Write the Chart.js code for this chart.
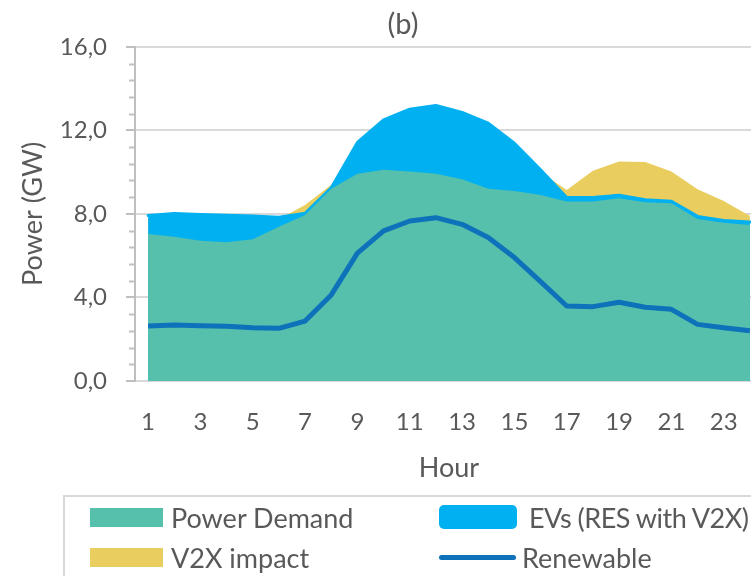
<!DOCTYPE html>
<html>
<head>
<meta charset="utf-8">
<script src="https://cdn.jsdelivr.net/npm/chart.js@4/dist/chart.umd.min.js"></script>
<style>
    html, body { margin: 0; padding: 0; background: #fff; overflow: hidden; }
    #wrap { position: relative; width: 751px; height: 576px; overflow: hidden; }
    #chart { position: absolute; left: 0; top: 0; }
    #legend {
        position: absolute; left: 63px; top: 495px; width: 700px; height: 120px;
        border: 2px solid #D9D9D9; box-sizing: border-box;
        display: grid; grid-template-columns: 349px auto; grid-auto-rows: 40px;
        padding-left: 25px; padding-top: 0;
        font-family: Lato, sans-serif; font-size: 27px; color: #595959;
    }
    .item { display: flex; align-items: center; white-space: nowrap; }
    .swatch { flex: none; }
</style>
</head>
<body>
<div id="wrap">
    <canvas id="chart" width="806" height="576"></canvas>
    <div id="legend"></div>
</div>
<script>
// --- Données ---
const hours = ['1', '2', '3', '4', '5', '6', '7', '8', '9', '10', '11', '12',
               '13', '14', '15', '16', '17', '18', '19', '20', '21', '22', '23', '24'];

const powerDemand = [7.04, 6.91, 6.71, 6.64, 6.79, 7.39, 7.95, 9.20, 9.92, 10.11, 10.03, 9.92,
                     9.66, 9.21, 9.10, 8.91, 8.59, 8.59, 8.75, 8.56, 8.51, 7.76, 7.58, 7.47];

const evsWithV2X  = [7.92, 8.02, 7.97, 7.94, 7.90, 7.84, 8.03, 9.25, 11.42, 12.50, 13.01, 13.19,
                     12.86, 12.34, 11.38, 10.11, 8.78, 8.78, 8.89, 8.68, 8.60, 7.88, 7.69, 7.61];

const v2xImpact   = [7.80, 7.90, 7.85, 7.80, 7.75, 7.75, 8.43, 9.39, 11.15, 12.20, 12.70, 12.90,
                     12.60, 12.00, 11.00, 10.00, 9.15, 10.06, 10.51, 10.48, 10.03, 9.18, 8.62, 7.90];

const renewable   = [2.63, 2.68, 2.65, 2.62, 2.55, 2.52, 2.87, 4.12, 6.12, 7.19, 7.66, 7.82,
                     7.50, 6.87, 5.91, 4.76, 3.59, 3.56, 3.77, 3.53, 3.43, 2.71, 2.55, 2.41];

const yMax = 16;
const yMajorStep = 4;
const yMinorStep = 0.8;

// --- Couleurs ---
const TEAL   = '#57C0AC';
const BLUE   = '#00B0F0';
const YELLOW = '#E9CD5E';
const LINE   = '#0E72BA';
const TEXT   = '#595959';
const FONT   = 'Lato, sans-serif';

// petits traits secondaires sur l'axe Y
const minorTicks = {
    id: 'minorTicks',
    afterDraw(chart) {
        const y = chart.scales.y;
        const ctx = chart.ctx;
        const count = Math.round(yMax / yMinorStep);
        ctx.save();
        ctx.strokeStyle = '#BFBFBF';
        ctx.lineWidth = 2;
        for (let i = 0; i <= count; i++) {
            const v = i * yMinorStep;
            if (Math.abs(v / yMajorStep - Math.round(v / yMajorStep)) < 1e-6) continue;
            const py = Math.round(y.getPixelForValue(v)) + 0.5;
            ctx.beginPath();
            ctx.moveTo(y.right - 6, py);
            ctx.lineTo(y.right, py);
            ctx.stroke();
        }
        ctx.restore();
    }
};

const chart = new Chart(document.getElementById('chart'), {
    type: 'line',
    data: {
        labels: hours,
        datasets: [
            {
                label: 'Power Demand',
                data: powerDemand,
                backgroundColor: TEAL,
                borderColor: TEAL,
                borderWidth: 0,
                fill: 'origin',
                order: 1,
                legendKind: 'box'
            },
            {
                label: 'EVs (RES with V2X)',
                data: evsWithV2X,
                backgroundColor: BLUE,
                borderColor: BLUE,
                borderWidth: 3,
                borderJoinStyle: 'round',
                borderCapStyle: 'round',
                fill: 'origin',
                order: 2,
                legendKind: 'roundbox'
            },
            {
                label: 'V2X impact',
                data: v2xImpact,
                backgroundColor: YELLOW,
                borderColor: YELLOW,
                borderWidth: 0,
                fill: 'origin',
                order: 3,
                legendKind: 'box'
            },
            {
                label: 'Renewable',
                data: renewable,
                borderColor: LINE,
                borderWidth: 5,
                borderJoinStyle: 'round',
                fill: false,
                order: 0,
                legendKind: 'line'
            }
        ]
    },
    options: {
        responsive: false,
        animation: false,
        devicePixelRatio: 1,
        elements: {
            point: { radius: 0 },
            line: { tension: 0 }
        },
        layout: {
            padding: { left: 0, right: 0, top: 0, bottom: 86 }
        },
        plugins: {
            legend: { display: false },
            tooltip: { enabled: false },
            title: {
                display: true,
                text: '(b)',
                color: TEXT,
                font: { family: FONT, size: 29, weight: 'normal' },
                padding: { top: 7, bottom: 5 }
            }
        },
        scales: {
            x: {
                offset: true,
                grid: { display: false, drawTicks: false },
                border: { display: true, color: '#D9D9D9', width: 2 },
                ticks: {
                    autoSkip: false,
                    maxRotation: 0,
                    padding: 27,
                    color: TEXT,
                    font: { family: FONT, size: 24 },
                    callback: (value, index) => (index % 2 === 0 ? hours[index] : '')
                },
                title: {
                    display: true,
                    text: 'Hour',
                    color: TEXT,
                    font: { family: FONT, size: 27 },
                    padding: { top: 0, bottom: 6 }
                },
                afterFit: scale => { scale.height = 109; }
            },
            y: {
                min: 0,
                max: yMax,
                grid: {
                    color: '#D9D9D9',
                    lineWidth: 2,
                    tickColor: '#BFBFBF',
                    tickLength: 9,
                    tickWidth: 2
                },
                border: { display: true, color: '#BFBFBF', width: 2 },
                ticks: {
                    stepSize: yMajorStep,
                    padding: 19,
                    color: TEXT,
                    font: { family: FONT, size: 24 },
                    callback: value => value.toFixed(1).replace('.', ',')
                },
                title: {
                    display: true,
                    text: 'Power (GW)',
                    color: TEXT,
                    font: { family: FONT, size: 27 },
                    padding: { top: 17, bottom: 0 }
                },
                afterFit: scale => { scale.width = 135; }
            },
            // marge à droite (le graphique est coupé par le cadre)
            right: {
                position: 'right',
                display: true,
                grid: { display: false, drawTicks: false },
                border: { display: false },
                ticks: { display: false },
                afterFit: scale => { scale.width = 43; }
            }
        }
    },
    plugins: [minorTicks]
});

// --- Légende HTML construite à partir des datasets ---
function buildLegend() {
    const legendEl = document.getElementById('legend');
    chart.data.datasets.forEach(ds => {
        const item = document.createElement('div');
        item.className = 'item';

        const sw = document.createElement('span');
        sw.className = 'swatch';
        if (ds.legendKind === 'line') {
            sw.style.cssText = `width:77px;height:5px;border-radius:3px;background:${ds.borderColor};margin-right:6px;`;
        } else if (ds.legendKind === 'roundbox') {
            sw.style.cssText = `width:78px;height:24px;border-radius:5px;background:${ds.backgroundColor};margin-right:12px;`;
        } else {
            sw.style.cssText = `width:73px;height:19px;background:${ds.backgroundColor};margin-right:8px;`;
        }

        const txt = document.createElement('span');
        txt.textContent = ds.label;
        if (ds.legendKind === 'roundbox') txt.style.letterSpacing = '-0.5px';

        item.appendChild(sw);
        item.appendChild(txt);
        legendEl.appendChild(item);
    });
}

buildLegend();
</script>
</body>
</html>
